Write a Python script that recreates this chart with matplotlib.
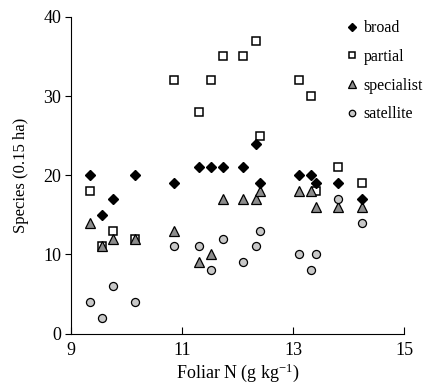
import matplotlib
matplotlib.use("Agg")
import matplotlib.pyplot as plt

plt.rcParams['font.family'] = ['Liberation Serif', 'DejaVu Serif']
plt.rcParams['mathtext.fontset'] = 'custom'
plt.rcParams['mathtext.rm'] = 'Liberation Serif'
plt.rcParams['mathtext.it'] = 'Liberation Serif:italic'
plt.rcParams['mathtext.default'] = 'rm'

foliar_n = [9.34, 9.55, 9.76, 10.16, 10.86, 11.31, 11.52, 11.74, 12.09, 12.33, 12.41, 13.11, 13.32, 13.41, 13.81, 14.24]
broad = [20, 15, 17, 20, 19, 21, 21, 21, 21, 24, 19, 20, 20, 19, 19, 17]
partial = [18, 11, 13, 12, 32, 28, 32, 35, 35, 37, 25, 32, 30, 18, 21, 19]
specialist = [14, 11, 12, 12, 13, 9, 10, 17, 17, 17, 18, 18, 18, 16, 16, 16]
satellite = [4, 2, 6, 4, 11, 11, 8, 12, 9, 11, 13, 10, 8, 10, 17, 14]

fig = plt.figure(figsize=(4.24, 3.92), dpi=100)
ax = fig.add_axes([0.1675, 0.149, 0.7855, 0.808])

hp, = ax.plot(foliar_n, partial, linestyle='none', marker='s', ms=5.6, mfc='white', mec='black', mew=1.1, zorder=3, label='partial')
hs, = ax.plot(foliar_n, specialist, linestyle='none', marker='^', ms=6.8, mfc='#8c8c8c', mec='black', mew=0.9, zorder=4, label='specialist')
hc, = ax.plot(foliar_n, satellite, linestyle='none', marker='o', ms=5.8, mfc='#c8c8c8', mec='black', mew=0.9, zorder=4, label='satellite')
hb, = ax.plot(foliar_n, broad, linestyle='none', marker='D', ms=4.9, mfc='black', mec='black', zorder=5, label='broad')

ax.set_xlim(9, 15)
ax.set_ylim(0, 40)
ax.set_xticks([9, 11, 13, 15])
ax.set_yticks([0, 10, 20, 30, 40])
ax.spines['top'].set_visible(False)
ax.spines['right'].set_visible(False)
ax.tick_params(axis='x', direction='in', length=5, labelsize=13, pad=6)
ax.tick_params(axis='y', direction='out', length=4, labelsize=13, pad=3)
ax.set_xlabel('Foliar N (g kg$^{-1}$)', fontsize=13, labelpad=2)
ax.set_ylabel('Species (0.15 ha)', fontsize=12, labelpad=10)

leg = ax.legend(handles=[hb, hp, hs, hc], loc='upper right', frameon=False, fontsize=11.5,
                handlelength=0.6, handletextpad=0.4, labelspacing=0.8,
                bbox_to_anchor=(1.10, 1.035), markerscale=0.8)

fig.savefig('out.png', dpi=100)
